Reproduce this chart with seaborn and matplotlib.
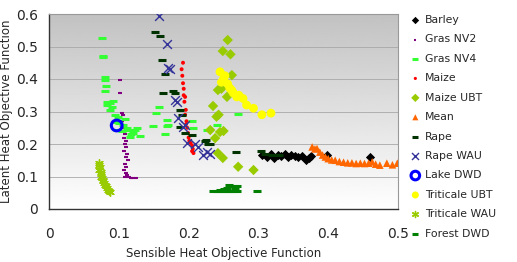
import numpy as np
import pandas as pd
import matplotlib
matplotlib.use("Agg")
import matplotlib.pyplot as plt
import seaborn as sns

sns.set_style("white")
plt.rcParams['font.family'] = ['DejaVu Sans']

# ---- data (sensible x, latent y) ----
barley_x = [0.305, 0.312, 0.318, 0.322, 0.328, 0.333, 0.338, 0.342, 0.347, 0.352, 0.357, 0.362, 0.368, 0.372, 0.376, 0.398, 0.46]
barley_y = [0.165, 0.160, 0.168, 0.158, 0.165, 0.162, 0.170, 0.160, 0.166, 0.163, 0.160, 0.164, 0.150, 0.158, 0.163, 0.166, 0.160]

nv2_x = [0.102, 0.102, 0.104, 0.106, 0.105, 0.107, 0.108, 0.106, 0.109, 0.108, 0.110, 0.109, 0.111, 0.108, 0.112, 0.110, 0.113, 0.109, 0.111, 0.108, 0.110, 0.112, 0.109, 0.114, 0.117, 0.120, 0.124]
nv2_y = [0.397, 0.357, 0.295, 0.290, 0.270, 0.260, 0.250, 0.240, 0.230, 0.220, 0.210, 0.200, 0.190, 0.180, 0.170, 0.160, 0.150, 0.140, 0.130, 0.120, 0.110, 0.105, 0.100, 0.100, 0.096, 0.095, 0.095]

nv4_x = [0.076, 0.077, 0.080, 0.080, 0.082, 0.080, 0.083, 0.092, 0.083, 0.087, 0.095, 0.099, 0.109, 0.095, 0.106, 0.097, 0.114, 0.123, 0.121, 0.130, 0.116, 0.126, 0.149, 0.157, 0.154, 0.169, 0.171, 0.169, 0.166, 0.207, 0.205, 0.271, 0.241, 0.226, 0.090, 0.100, 0.112, 0.118, 0.104, 0.088, 0.078]
nv4_y = [0.526, 0.468, 0.406, 0.396, 0.378, 0.363, 0.330, 0.333, 0.320, 0.305, 0.290, 0.284, 0.277, 0.268, 0.258, 0.243, 0.243, 0.243, 0.234, 0.225, 0.222, 0.248, 0.255, 0.314, 0.295, 0.274, 0.258, 0.255, 0.231, 0.249, 0.272, 0.292, 0.258, 0.243, 0.313, 0.265, 0.250, 0.230, 0.240, 0.325, 0.470]

maize_x = [0.192, 0.190, 0.191, 0.192, 0.193, 0.193, 0.195, 0.194, 0.196, 0.195, 0.197, 0.196, 0.198, 0.199, 0.200, 0.201, 0.203, 0.205, 0.206, 0.207, 0.205]
maize_y = [0.450, 0.430, 0.410, 0.387, 0.370, 0.350, 0.345, 0.330, 0.305, 0.290, 0.270, 0.260, 0.250, 0.234, 0.220, 0.210, 0.203, 0.195, 0.185, 0.172, 0.178]

maizeubt_x = [0.256, 0.249, 0.260, 0.262, 0.242, 0.255, 0.235, 0.240, 0.243, 0.231, 0.245, 0.238, 0.242, 0.249, 0.271, 0.293, 0.247, 0.250]
maizeubt_y = [0.520, 0.486, 0.476, 0.412, 0.366, 0.345, 0.317, 0.284, 0.290, 0.243, 0.237, 0.218, 0.172, 0.157, 0.130, 0.120, 0.370, 0.240]

mean_x = [0.377, 0.381, 0.384, 0.388, 0.392, 0.396, 0.400, 0.405, 0.410, 0.416, 0.422, 0.428, 0.434, 0.440, 0.446, 0.452, 0.458, 0.463, 0.468, 0.474, 0.484, 0.492, 0.499]
mean_y = [0.191, 0.185, 0.186, 0.175, 0.166, 0.160, 0.155, 0.151, 0.150, 0.146, 0.144, 0.142, 0.142, 0.140, 0.141, 0.140, 0.141, 0.145, 0.138, 0.135, 0.141, 0.136, 0.141]

rape_x = [0.152, 0.159, 0.162, 0.166, 0.163, 0.178, 0.180, 0.188, 0.190, 0.188, 0.195, 0.205, 0.224, 0.228, 0.268, 0.304, 0.225, 0.230, 0.310, 0.320, 0.330]
rape_y = [0.545, 0.532, 0.458, 0.415, 0.357, 0.363, 0.357, 0.305, 0.290, 0.252, 0.234, 0.228, 0.210, 0.200, 0.176, 0.179, 0.212, 0.200, 0.170, 0.165, 0.165]

rapewau_x = [0.158, 0.169, 0.171, 0.174, 0.180, 0.183, 0.185, 0.192, 0.195, 0.198, 0.209, 0.213, 0.221, 0.231, 0.226]
rapewau_y = [0.594, 0.508, 0.434, 0.430, 0.335, 0.330, 0.280, 0.252, 0.260, 0.203, 0.200, 0.190, 0.166, 0.169, 0.175]

lake_x = [0.097]
lake_y = [0.257]

tritubt_x = [0.245, 0.247, 0.252, 0.259, 0.264, 0.269, 0.278, 0.283, 0.293, 0.305, 0.318, 0.250, 0.256, 0.262, 0.272]
tritubt_y = [0.422, 0.390, 0.410, 0.372, 0.357, 0.345, 0.340, 0.320, 0.310, 0.290, 0.295, 0.400, 0.385, 0.365, 0.350]

tritwau_x = [0.071, 0.072, 0.073, 0.072, 0.074, 0.075, 0.074, 0.076, 0.077, 0.078, 0.079, 0.080, 0.081, 0.083, 0.084, 0.086, 0.088]
tritwau_y = [0.141, 0.135, 0.128, 0.120, 0.115, 0.108, 0.100, 0.095, 0.090, 0.085, 0.080, 0.075, 0.070, 0.065, 0.060, 0.055, 0.052]

forest_x = [0.235, 0.240, 0.245, 0.250, 0.255, 0.260, 0.265, 0.270, 0.245, 0.250, 0.255, 0.260, 0.265, 0.270, 0.258, 0.266, 0.298]
forest_y = [0.055, 0.055, 0.055, 0.055, 0.055, 0.055, 0.055, 0.055, 0.060, 0.063, 0.066, 0.070, 0.072, 0.070, 0.073, 0.062, 0.055]

xticks = [0, 0.1, 0.2, 0.3, 0.4, 0.5]
yticks = [0, 0.1, 0.2, 0.3, 0.4, 0.5, 0.6]

fig = plt.figure(figsize=(5.17, 2.62), dpi=100)
ax = fig.add_axes([49/517, 1-209/262, (398-49)/517, (209-14)/262])

# gradient background: gray at top, white at bottom
grad = np.linspace(1.0, 0.76, 256).reshape(-1, 1)
ax.imshow(grad, extent=[0, 0.5, 0, 0.6], cmap='gray', vmin=0, vmax=1,
          aspect='auto', zorder=0, origin='lower', interpolation='bilinear')
ax.set_xlim(0, 0.5)
ax.set_ylim(0, 0.6)
for y in yticks[1:]:
    ax.axhline(y, color='#a8a8a8', lw=0.6, zorder=1)

series = [
    ("Barley", barley_x, barley_y, dict(marker='D', s=22, color='black', edgecolor='black', linewidth=0)),
    ("Gras NV2", nv2_x, nv2_y, dict(marker='_', s=6, color='#800080', linewidth=1.5)),
    ("Gras NV4", nv4_x, nv4_y, dict(marker='_', s=36, color='#33ff33', linewidth=2.2)),
    ("Maize", maize_x, maize_y, dict(marker='o', s=8, color='#ff0000', edgecolor='none')),
    ("Maize UBT", maizeubt_x, maizeubt_y, dict(marker='D', s=28, color='#99cc00', edgecolor='none')),
    ("Mean", mean_x, mean_y, dict(marker='^', s=30, color='#ff6600', edgecolor='none')),
    ("Rape", rape_x, rape_y, dict(marker='_', s=36, color='#003300', linewidth=2.2)),
    ("Rape WAU", rapewau_x, rapewau_y, dict(marker='x', s=40, color='#333399', linewidth=1.0)),
    ("Lake DWD", lake_x, lake_y, dict(marker='o', s=60, facecolor='none', edgecolor='#0000ff', linewidth=2.2)),
    ("Triticale UBT", tritubt_x, tritubt_y, dict(marker='o', s=40, color='#ffff00', edgecolor='none')),
    ("Triticale WAU", tritwau_x, tritwau_y, dict(marker=(6, 2, 0), s=30, color='#99cc00', linewidth=1.0)),
    ("Forest DWD", forest_x, forest_y, dict(marker='_', s=36, color='#008000', linewidth=2.2)),
]
for name, xs, ys, kw in series:
    sns.scatterplot(x=xs, y=ys, ax=ax, label=name, zorder=3, **kw)

ax.set_xticks(xticks)
ax.set_xticklabels(['0', '0.1', '0.2', '0.3', '0.4', '0.5'], fontsize=10)
ax.set_yticks(yticks)
ax.set_yticklabels(['0', '0.1', '0.2', '0.3', '0.4', '0.5', '0.6'], fontsize=10)
ax.tick_params(direction='out', length=4, width=0.8, color='#333333')
ax.tick_params(axis='y', pad=4)
ax.tick_params(axis='x', pad=9)
for side in ['left', 'bottom']:
    ax.spines[side].set_color('#333333')
    ax.spines[side].set_linewidth(1.0)
for side in ['top', 'right']:
    ax.spines[side].set_color('#999999')
    ax.spines[side].set_linewidth(0.8)

ax.set_xlabel("Sensible Heat Objective Function", fontsize=8.5, labelpad=4)
ax.set_ylabel("Latent Heat Objective Function", fontsize=8.5, labelpad=2)

leg = ax.legend(loc='upper left', bbox_to_anchor=(411/517, 1-15/262),
                bbox_transform=fig.transFigure, frameon=False, fontsize=7.8,
                labelspacing=0.87, handlelength=0.8, handletextpad=0.5,
                borderaxespad=0, borderpad=0, markerscale=0.8)

fig.savefig("out.png", dpi=100)
